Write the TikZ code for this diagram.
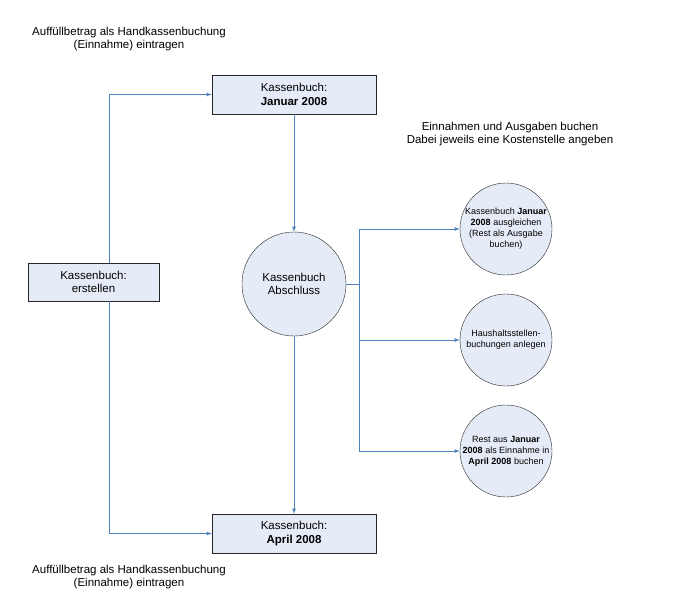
\documentclass[tikz,border=0pt]{standalone}
\usepackage{fontspec}
\setmainfont{Liberation Sans}
\usepackage{tikz}

\definecolor{linienblau}{RGB}{79,129,189}
\definecolor{fuellblau}{RGB}{230,236,247}

\tikzset{
  box/.style={draw=black!85,fill=fuellblau,minimum width=164pt,minimum height=39pt,
    align=center,font=\fontsize{11.5}{13.5}\selectfont,inner sep=0pt},
  kreis/.style={draw=black!85,fill=fuellblau,circle,minimum size=104pt,inner sep=0pt,
    align=center,font=\fontsize{11.5}{13.5}\selectfont},
  klein/.style={draw=black!85,fill=fuellblau,circle,minimum size=92pt,inner sep=0pt,
    align=center,font=\fontsize{9}{11}\selectfont},
  hinweis/.style={align=center,font=\fontsize{11.5}{13.5}\selectfont},
  pfeil/.style={draw=linienblau,thick,->,>=latex},
  linie/.style={draw=linienblau,thick}
}

\begin{document}
\begin{tikzpicture}[x=1pt,y=-1pt]
          \useasboundingbox (0,0) rectangle (682,611);
          % boxes
          \node[box] (januar) at (294,94.5) {Kassenbuch:\\\textbf{Januar 2008}};
          \node[box,minimum width=131pt,minimum height=38pt] (erstellen) at (93.5,282) {Kassenbuch:\\erstellen};
          \node[box] (april) at (294,533.5) {Kassenbuch:\\\textbf{April 2008}};
          % circles
          \node[kreis] (abschluss) at (294,284) {Kassenbuch\\Abschluss};
          \node[klein] (ausgleich) at (506,229) {Kassenbuch \textbf{Januar}\\\textbf{2008} ausgleichen\\(Rest als Ausgabe\\buchen)};
          \node[klein] (haushalt) at (506,340) {Haushaltsstellen-\\buchungen anlegen};
          \node[klein] (rest) at (506,451) {Rest aus \textbf{Januar}\\\textbf{2008} als Einnahme in\\\textbf{April 2008} buchen};
          % texts
          \node[hinweis] (oben) at (129,39) {Auffüllbetrag als Handkassenbuchung\\(Einnahme) eintragen};
          \node[hinweis] (unten) at (129,577) {Auffüllbetrag als Handkassenbuchung\\(Einnahme) eintragen};
          \node[hinweis] (buchen) at (510,134) {Einnahmen und Ausgaben buchen\\Dabei jeweils eine Kostenstelle angeben};
          % arrows
          \draw[pfeil] ([xshift=16pt]erstellen.north) |- (januar.west);
          \draw[pfeil] ([xshift=16pt]erstellen.south) |- (april.west);
          \draw[pfeil] (januar) -- (abschluss);
          \draw[pfeil] (abschluss) -- (april);
          \draw[linie] (abschluss.east) -- ++(13,0) coordinate (knick);
          \draw[pfeil] (knick) |- (ausgleich.west);
          \draw[pfeil] (knick) |- (haushalt.west);
          \draw[pfeil] (knick) |- (rest.west);
        \end{tikzpicture}
\end{document}
